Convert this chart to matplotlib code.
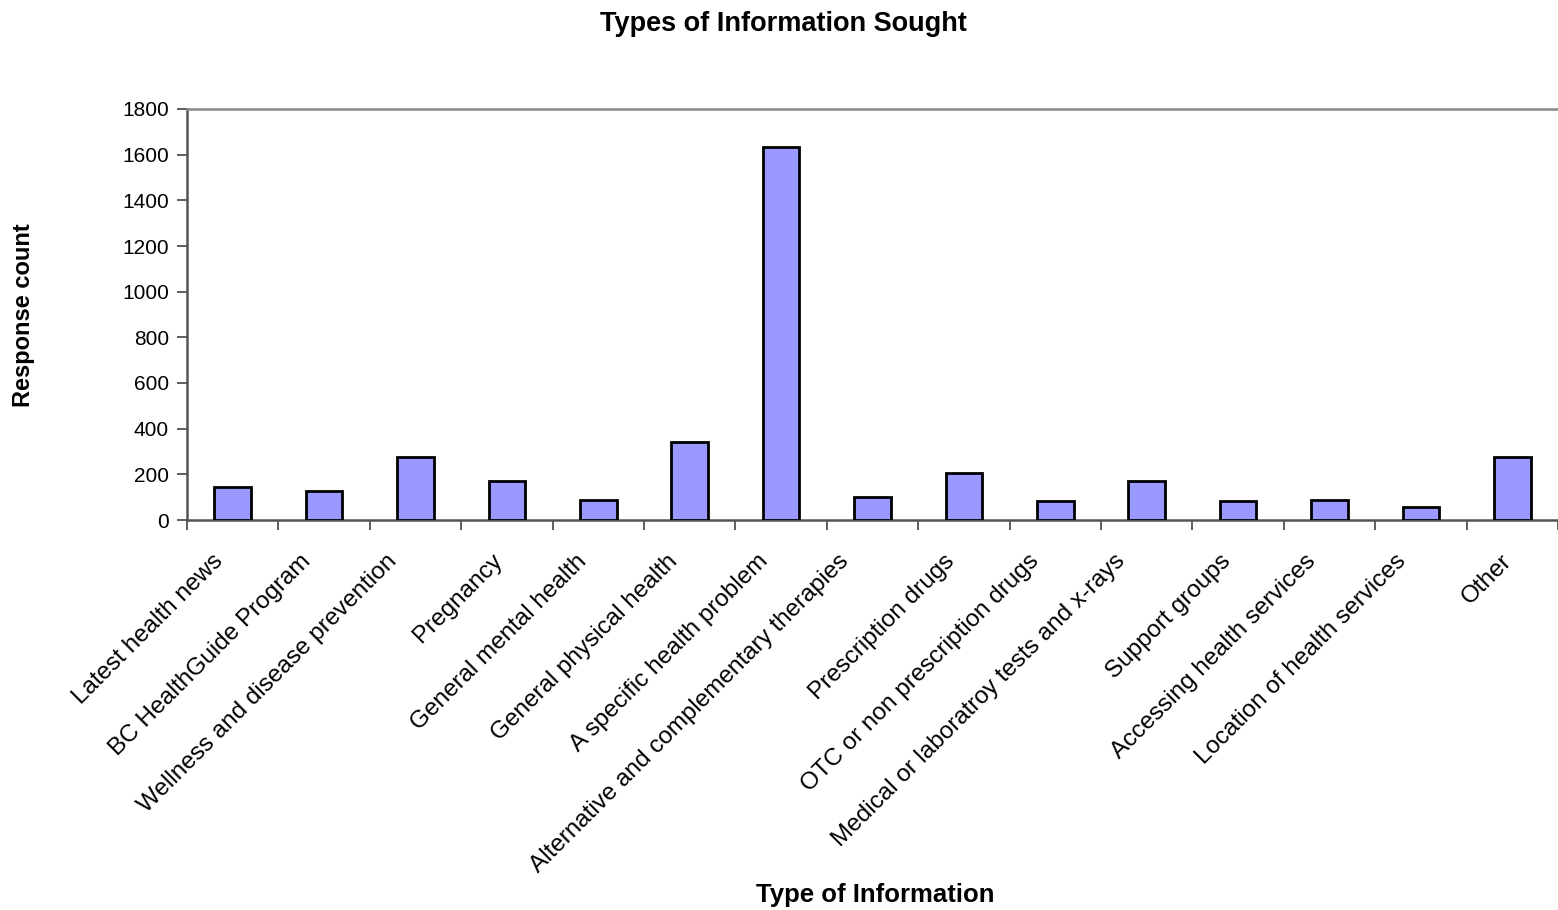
import numpy as np
import matplotlib
matplotlib.use("Agg")
import matplotlib.pyplot as plt
from matplotlib.transforms import ScaledTranslation

# Types of information sought - response counts
categories = ["Latest health news", "BC HealthGuide Program",
              "Wellness and disease prevention", "Pregnancy",
              "General mental health", "General physical health",
              "A specific health problem",
              "Alternative and complementary therapies",
              "Prescription drugs", "OTC or non prescription drugs",
              "Medical or laboratroy tests and x-rays", "Support groups",
              "Accessing health services", "Location of health services",
              "Other"]
counts = [143, 126, 274, 169, 87, 341, 1632, 101, 206, 85, 171, 85, 88, 58, 277]
yticks = [0, 200, 400, 600, 800, 1000, 1200, 1400, 1600, 1800]

plt.rcParams['font.family'] = ['Liberation Sans', 'DejaVu Sans']

fig = plt.figure(figsize=(15.58, 9.10), dpi=100)
ax = fig.add_axes([187 / 1558, 1 - 520 / 910, 1371 / 1558, 411 / 910])

x = np.arange(len(categories))
ax.bar(x, counts, width=0.4, color="#9999FF", edgecolor="black", linewidth=2.0, zorder=3)

ax.set_xlim(-0.5, len(categories) - 0.5)
ax.set_ylim(0, 1800)
ax.set_yticks(yticks)
ax.set_yticklabels([str(v) for v in yticks], fontsize=15)

# tick marks between categories, labels drawn by hand below
ax.set_xticks(np.arange(len(categories) + 1) - 0.5)
ax.set_xticklabels([])
ax.tick_params(axis="x", length=7, width=1.2, color="#444444")
ax.tick_params(axis="y", length=7, width=1.2, color="#444444", pad=6)

for s in ["left", "bottom"]:
    ax.spines[s].set_color("#555555")
    ax.spines[s].set_linewidth(1.8)
ax.spines["top"].set_color("#888888")
ax.spines["top"].set_linewidth(1.8)
ax.spines["right"].set_visible(False)

# rotated category labels, longer ones pushed a bit further left (like Excel)
labels = []
for xi, cat in zip(x, categories):
    t = ax.text(xi, 0, cat, transform=ax.get_xaxis_transform(), rotation=45,
                ha="right", va="top", rotation_mode="anchor", fontsize=17.5)
    labels.append(t)

fig.canvas.draw()
r = fig.canvas.get_renderer()
for t in labels:
    bb = t.get_window_extent(r)
    L = bb.width / 0.707
    dx = -(7 + 0.06 * L)
    dy = -30
    t.set_transform(ax.get_xaxis_transform() +
                    ScaledTranslation(dx / 100, dy / 100, fig.dpi_scale_trans))

fig.text(783 / 1558, 1 - 24 / 910, "Types of Information Sought", ha="center", va="center",
         fontsize=19.5, fontweight="bold")
fig.text(875 / 1558, 1 - 895 / 910, "Type of Information", ha="center", va="center",
         fontsize=18.5, fontweight="bold")
fig.text(24 / 1558, 1 - 315 / 910, "Response count", ha="center", va="center",
         rotation=90, fontsize=17, fontweight="bold")

fig.savefig("out.png", dpi=100)
